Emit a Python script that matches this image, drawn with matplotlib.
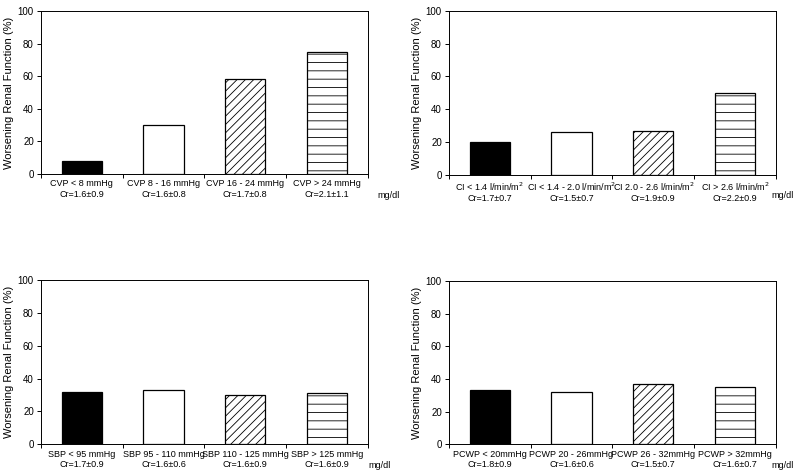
import matplotlib.pyplot as plt

plt.rcParams['font.family'] = ['Liberation Sans', 'DejaVu Sans']

# values (% worsening renal function)
cvp_vals = [8, 30, 58, 75]
cvp_labels = ['CVP < 8 mmHg\nCr=1.6\u00b10.9', 'CVP 8 - 16 mmHg\nCr=1.6\u00b10.8',
              'CVP 16 - 24 mmHg\nCr=1.7\u00b10.8', 'CVP > 24 mmHg\nCr=2.1\u00b11.1']

ci_vals = [20, 26, 27, 50]
ci_labels = ['CI < 1.4 l/min/m$^2$\nCr=1.7\u00b10.7', 'CI < 1.4 - 2.0 l/min/m$^2$\nCr=1.5\u00b10.7',
             'CI 2.0 - 2.6 l/min/m$^2$\nCr=1.9\u00b10.9', 'CI > 2.6 l/min/m$^2$\nCr=2.2\u00b10.9']

sbp_vals = [32, 33, 30, 31]
sbp_labels = ['SBP < 95 mmHg\nCr=1.7\u00b10.9', 'SBP 95 - 110 mmHg\nCr=1.6\u00b10.6',
              'SBP 110 - 125 mmHg\nCr=1.6\u00b10.9', 'SBP > 125 mmHg\nCr=1.6\u00b10.9']

pcwp_vals = [33, 32, 37, 35]
pcwp_labels = ['PCWP < 20mmHg\nCr=1.8\u00b10.9', 'PCWP 20 - 26mmHg\nCr=1.6\u00b10.6',
               'PCWP 26 - 32mmHg\nCr=1.5\u00b10.7', 'PCWP > 32mmHg\nCr=1.6\u00b10.7']

plt.rcParams['hatch.linewidth'] = 0.6

fig = plt.figure(figsize=(8, 4.75), dpi=100)

# rect, values, labels, x offset of the "mg/dl" note (points)
panels = [
    ([0.051, 0.634, 0.409, 0.343], cvp_vals, cvp_labels, 6.5),
    ([0.561, 0.632, 0.409, 0.345], ci_vals, ci_labels, -3.5),
    ([0.051, 0.065, 0.409, 0.345], sbp_vals, sbp_labels, 0),
    ([0.561, 0.065, 0.409, 0.343], pcwp_vals, pcwp_labels, -3),
]

fills = ['black', 'white', 'white', 'white']
hatches = [None, None, '////', '--']

for rect, vals, labels, mg_dx in panels:
    ax = fig.add_axes(rect)
    x = range(len(vals))
    for i, v in enumerate(vals):
        ax.bar(i, v, width=0.49, color=fills[i], edgecolor='black',
               linewidth=0.9, hatch=hatches[i])
    ax.set_xlim(-0.5, 3.5)
    ax.set_ylim(0, 100)
    ax.set_yticks([0, 20, 40, 60, 80, 100])
    ax.tick_params(axis='y', labelsize=7, length=3, width=0.7, pad=2)
    ax.set_xticks([-0.5, 0.5, 1.5, 2.5, 3.5])
    ax.set_xticklabels([])
    ax.tick_params(axis='x', which='major', length=3, width=0.7)
    ax.set_xticks(list(x), labels, minor=True)
    ax.tick_params(axis='x', which='minor', length=0, labelsize=6.5, pad=4)
    ax.set_ylabel('Worsening Renal Function (%)', fontsize=8, labelpad=3)
    for s in ax.spines.values():
        s.set_linewidth(0.7)
    ax.annotate('mg/dl', xy=(1, 0), xycoords='axes fraction',
                xytext=(mg_dx, -18.5), textcoords='offset points',
                fontsize=6.5, ha='left', va='bottom')

fig.savefig('out.png', dpi=100)
